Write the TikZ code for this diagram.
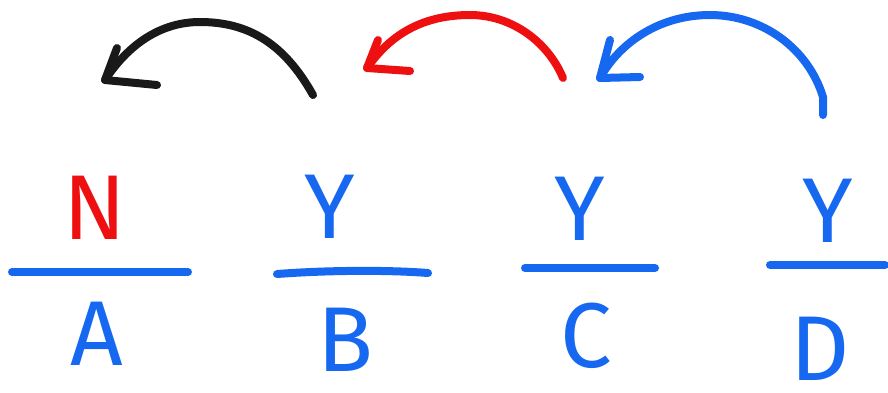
\documentclass[tikz,border=0pt]{standalone}
\usepackage{fontspec}
\newfontfamily\handfont{Fira Sans}
\definecolor{penblue}{RGB}{22,104,240}
\definecolor{penred}{RGB}{238,16,16}
\definecolor{penblack}{RGB}{25,25,25}
\tikzset{
  stroke/.style={line width=8pt, line cap=round, line join=round},
  letter/.style={inner sep=0pt, anchor=base, text depth=0pt,
    font=\handfont\fontsize{92}{92}\selectfont},
}
\begin{document}
\begin{tikzpicture}[x=1pt,y=-1pt]
\useasboundingbox[fill=white] (0,0) rectangle (888,392);
% top letters
\node[letter, text=penred]  (n)  at (95,239) {N};
\node[letter, text=penblue] (y1) at (330,238) {Y};
\node[letter, text=penblue] (y2) at (580,240) {Y};
\node[letter, text=penblue] (y3) at (828,242) {Y};
% bottom letters
\node[letter, text=penblue] (a) at (97,365) {A};
\node[letter, text=penblue] (b) at (345,371) {B};
\node[letter, text=penblue] (c) at (586,367) {C};
\node[letter, text=penblue] (d) at (820,380) {D};
% fraction bars
\draw[stroke, penblue] (12,272) -- (188,272);
\draw[stroke, penblue] (277,274) .. controls (330,270) and (390,270) .. (428,273);
\draw[stroke, penblue] (525,268) -- (655,268);
\draw[stroke, penblue] (770,265) -- (885,265);
% arrow coordinates
\coordinate (k0) at (313,95);
\coordinate (k1) at (105,80);
\coordinate (r0) at (563,78);
\coordinate (r1) at (367,68);
\coordinate (b0) at (823,115);
\coordinate (b1) at (600,78);
% black arrow
\draw[stroke, penblack] (k0) .. controls (285,45) and (250,22) .. (200,22)
  .. controls (160,22) and (128,45) .. (k1);
\draw[stroke, penblack] (117,48) -- (k1) -- (157,85);
% red arrow
\draw[stroke, penred] (r0) .. controls (548,42) and (512,15) .. (470,15)
  .. controls (422,15) and (390,35) .. (r1);
\draw[stroke, penred] (378,40) -- (r1) -- (410,71);
% blue arrow
\draw[stroke, penblue] (b0) -- (823,97) .. controls (808,48) and (762,15) .. (710,15)
  .. controls (660,15) and (620,42) .. (b1);
\draw[stroke, penblue] (610,40) -- (b1) -- (640,77);
\end{tikzpicture}
\end{document}
